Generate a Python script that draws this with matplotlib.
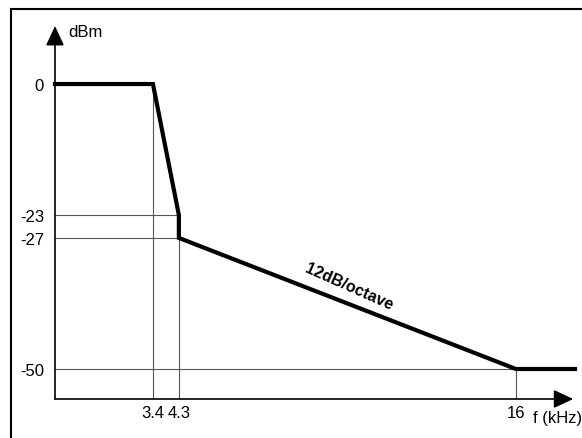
import matplotlib
matplotlib.use("Agg")
import matplotlib.pyplot as plt
from matplotlib.patches import Rectangle

plt.rcParams['font.family'] = ['Liberation Sans', 'DejaVu Sans']

# response mask: frequency (kHz) vs level (dBm)
freq = [0.0, 3.4, 4.3, 4.3, 16.0, 18.05]
level = [0, 0, -23, -27, -50, -50]

xtick_vals = [3.4, 4.3, 16]
xtick_labels = ["3.4", "4.3", "16"]
ytick_vals = [0, -23, -27, -50]
ytick_labels = ["0", "-23", "-27", "-50"]

W, H = 582, 439
fig = plt.figure(figsize=(W / 100, H / 100), dpi=100)

# outer frame (right and bottom edges fall outside the picture)
fig.patches.append(Rectangle((11 / W, -0.2), 1.2, (H - 10) / H + 0.2,
                             transform=fig.transFigure, fill=False,
                             edgecolor="black", linewidth=1.5))

ax = fig.add_axes([55 / W, (H - 400) / H, 520 / W, 373 / H])
ax.set_xlim(0, 18.05)
ax.set_ylim(-55.26, 10.18)
for s in ax.spines.values():
    s.set_visible(False)

# thin guide lines
gc = "#555555"
glw = 0.8
ybot = -55.26
ax.plot([3.4, 3.4], [0, ybot], color=gc, lw=glw)
ax.plot([4.3, 4.3], [-23, ybot], color=gc, lw=glw)
ax.plot([16, 16], [-50, ybot], color=gc, lw=glw)
ax.plot([0, 4.3], [-23, -23], color=gc, lw=glw)
ax.plot([0, 4.3], [-27, -27], color=gc, lw=glw)
ax.plot([0, 16], [-50, -50], color=gc, lw=glw)

# axes with arrows
astyle = "-|>,head_length=0.6,head_width=0.28"
ax.annotate("", xy=(0, 10.18), xytext=(0, ybot), xycoords="data",
            arrowprops=dict(arrowstyle=astyle, color="black", lw=1.2,
                            mutation_scale=20, shrinkA=0, shrinkB=0),
            annotation_clip=False)
ax.annotate("", xy=(17.99, ybot), xytext=(0, ybot), xycoords="data",
            arrowprops=dict(arrowstyle=astyle, color="black", lw=1.2,
                            mutation_scale=20, shrinkA=0, shrinkB=0),
            annotation_clip=False)

ax.plot(freq, level, color="black", lw=3, solid_joinstyle="miter",
        clip_on=False)

ax.set_xticks(xtick_vals)
ax.set_xticklabels(xtick_labels)
ax.set_yticks(ytick_vals)
ax.set_yticklabels(ytick_labels)
ax.tick_params(length=0, labelsize=12)
ax.tick_params(axis="y", pad=8)
ax.tick_params(axis="x", pad=4)

ax.text(0.45, 10.6, "dBm", fontsize=12, ha="left", va="top")
ax.text(16.6, -57.2, "f (kHz)", fontsize=12, ha="left", va="top",
        clip_on=False)
ax.text(10.2, -35.4, "12dB/octave", fontsize=11.5, fontweight="bold",
        rotation=-24, ha="center", va="center", rotation_mode="anchor")

fig.savefig("out.png", dpi=100)
